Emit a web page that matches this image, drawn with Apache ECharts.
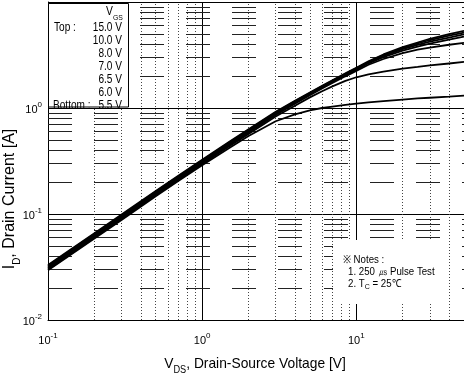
<!DOCTYPE html>
<html><head><meta charset="utf-8">
<script src="https://cdn.jsdelivr.net/npm/echarts@6/dist/echarts.min.js"></script>
<style>html,body{margin:0;padding:0;background:#fff}#c{width:464px;height:381px}</style>
</head><body><div id="c"></div>
<script>
// ---- data ----
const vds = [0.1,0.2,0.3,0.5,0.7,1,1.5,2,3,4,5,6,7,8.5,10,12,15,20,25,30,40,50];
const id15v0 = [0.033,0.066,0.099,0.165,0.23,0.325,0.48,0.63,0.92,1.17,1.40,1.62,1.83,2.12,2.40,2.76,3.20,3.75,4.15,4.50,4.98,5.35];
const id10v0 = [0.0324,0.0648,0.097,0.162,0.226,0.32,0.472,0.62,0.905,1.155,1.385,1.60,1.81,2.09,2.37,2.72,3.15,3.68,4.06,4.38,4.82,5.15];
const id8v0  = [0.0318,0.0636,0.095,0.159,0.222,0.314,0.464,0.61,0.89,1.14,1.37,1.58,1.79,2.07,2.34,2.69,3.10,3.60,3.95,4.22,4.62,4.95];
const id7v0  = [0.0312,0.0624,0.0935,0.156,0.218,0.308,0.455,0.60,0.875,1.12,1.35,1.56,1.76,2.04,2.30,2.64,3.02,3.48,3.80,4.05,4.42,4.72];
const id6v5  = [0.0306,0.0612,0.092,0.153,0.214,0.302,0.446,0.588,0.86,1.10,1.32,1.53,1.72,1.99,2.24,2.56,2.90,3.30,3.55,3.72,3.95,4.12];
const id6v0  = [0.030,0.060,0.090,0.150,0.21,0.296,0.436,0.57,0.83,1.05,1.26,1.44,1.60,1.80,1.95,2.08,2.20,2.35,2.44,2.52,2.63,2.72];
const id5v5  = [0.0294,0.0588,0.088,0.147,0.205,0.288,0.42,0.545,0.75,0.87,0.95,1.00,1.03,1.07,1.10,1.13,1.16,1.20,1.23,1.25,1.28,1.31];
const curves = [id15v0,id10v0,id8v0,id7v0,id6v5,id6v0,id5v5];
const vgsLabels = ['15.0 V','10.0 V','8.0 V','7.0 V','6.5 V','6.0 V','5.5 V'];
const xMinorGrid = [0.2,0.3,0.4,0.5,0.6,0.7,0.8,0.9,2,3,4,5,6,7,8,9,20,30,40];
const yMinorGrid = [0.02,0.03,0.04,0.05,0.06,0.07,0.08,0.09,0.2,0.3,0.4,0.5,0.6,0.7,0.8,0.9,2,3,4,5,6,7,8,9];
const noteLines = ['\u203B Notes :','1. 250 \u33B2 Pulse Test','2. T{s|C} = 25\u2103'];

// ---- chart ----
const FONT = '"Liberation Sans", Arial, sans-serif';
const chart = echarts.init(document.getElementById('c'), null, {renderer:'canvas'});

function powLabel(v){
  const e = Math.round(Math.log10(v));
  if (Math.abs(Math.log10(v) - e) > 1e-6) return '';
  return '{b|10}{s|' + e + '}';
}
const labelRich = {
  b:{fontSize:11, fontFamily:FONT, color:'#000', verticalAlign:'bottom'},
  s:{fontSize:8, fontFamily:FONT, color:'#000', verticalAlign:'bottom', padding:[0,0,6,0]}
};

const series = curves.map((d, k) => ({
  type:'line', name:vgsLabels[k], z:5,
  data: vds.map((v,i)=>[v, d[i]]),
  smooth:false, showSymbol:false, symbol:'none',
  lineStyle:{color:'#000', width:1.8}
}));
series.push({
  type:'line', z:1, data:[[0.1,0.01]], showSymbol:false, symbol:'none', lineStyle:{width:0},
  markLine:{silent:true, symbol:'none', label:{show:false}, animation:false,
    lineStyle:{type:[1,2], color:'#444', width:1},
    data: xMinorGrid.map(v=>({xAxis:v}))}
});
series.push({
  type:'line', z:1, data:[[0.1,0.01]], showSymbol:false, symbol:'none', lineStyle:{width:0},
  markLine:{silent:true, symbol:'none', label:{show:false}, animation:false,
    lineStyle:{type:[24,22], color:'#222', width:1},
    data: yMinorGrid.map(v=>({yAxis:v}))}
});

const legendTexts = vgsLabels.map((t,i)=>({
  type:'text', x:122, y:27.5 + i*13, scaleX:0.84, z:101,
  style:{text:t, font:'12px '+FONT, fill:'#000', align:'right', textAlign:'right', verticalAlign:'middle', textVerticalAlign:'middle'}
}));

chart.setOption({
  animation:false,
  backgroundColor:'#fff',
  grid:{left:48, right:0, top:2, bottom:61, containLabel:false},
  xAxis:{type:'log', logBase:10, min:0.1, max:50,
    axisLine:{show:true, lineStyle:{color:'#000', width:1}},
    axisTick:{show:false},
    splitLine:{show:true, lineStyle:{color:'#000', width:1}},
    axisLabel:{formatter:powLabel, rich:labelRich, margin:12, showMaxLabel:false}
  },
  yAxis:{type:'log', logBase:10, min:0.01, max:10,
    axisLine:{show:true, lineStyle:{color:'#000', width:1}},
    axisTick:{show:false},
    splitLine:{show:true, lineStyle:{color:'#000', width:1}},
    axisLabel:{formatter:powLabel, rich:labelRich, margin:6, showMaxLabel:false}
  },
  series: series,
  graphic:[
    {type:'rect', z:100, shape:{x:48.5, y:3.5, width:80, height:103.5}, style:{fill:'#fff', stroke:'#000', lineWidth:1}},
    {type:'text', x:106, y:14, z:101, scaleX:0.86,
      style:{text:'{a|V}{d|GS}', fill:'#000', align:'left', textAlign:'left', verticalAlign:'middle', textVerticalAlign:'middle',
        rich:{a:{fontSize:12, fontFamily:FONT, verticalAlign:'bottom', padding:[0,0,4,0]}, d:{fontSize:8, fontFamily:FONT, verticalAlign:'bottom'}}}},
    {type:'text', x:54, y:27.5, z:101, scaleX:0.84,
      style:{text:'Top :', font:'12px '+FONT, fill:'#000', align:'left', textAlign:'left', verticalAlign:'middle', textVerticalAlign:'middle'}},
    {type:'text', x:53, y:105.5, z:101, scaleX:0.84,
      style:{text:'Bottom :', font:'12px '+FONT, fill:'#000', align:'left', textAlign:'left', verticalAlign:'middle', textVerticalAlign:'middle'}},
    ...legendTexts,
    {type:'rect', z:100, shape:{x:333, y:240, width:111, height:64}, style:{fill:'#fff', lineWidth:0}},
    {type:'text', x:343, y:260, z:101, scaleX:0.88,
      style:{text:noteLines[0], font:'11px '+FONT, fill:'#000', align:'left', textAlign:'left', verticalAlign:'middle', textVerticalAlign:'middle'}},
    {type:'text', x:348, y:271.5, z:101, scaleX:0.88,
      style:{text:noteLines[1], font:'11px '+FONT, fill:'#000', align:'left', textAlign:'left', verticalAlign:'middle', textVerticalAlign:'middle'}},
    {type:'text', x:348, y:284, z:101, scaleX:0.88,
      style:{text:noteLines[2], fill:'#000', align:'left', textAlign:'left', verticalAlign:'middle', textVerticalAlign:'middle',
        font:'11px '+FONT,
        rich:{s:{fontSize:8, fontFamily:FONT, padding:[6,0,0,0]}}}},
    {type:'text', x:255, y:366, z:101, scaleX:0.92,
      style:{text:'{a|V}{d|DS}{a|, Drain-Source Voltage [V]}', fill:'#000', align:'center', textAlign:'center', verticalAlign:'middle', textVerticalAlign:'middle',
        rich:{a:{fontSize:15, fontFamily:FONT, verticalAlign:'bottom', padding:[0,0,4,0]}, d:{fontSize:10, fontFamily:FONT, verticalAlign:'bottom'}}}},
    {type:'text', x:12, y:199, z:101, rotation:Math.PI/2, scaleX:1.0,
      style:{text:'{a|I}{d|D}{a|, Drain Current [A]}', fill:'#000', align:'center', textAlign:'center', verticalAlign:'middle', textVerticalAlign:'middle',
        rich:{a:{fontSize:16, fontFamily:FONT, verticalAlign:'bottom', padding:[0,0,4,0]}, d:{fontSize:10, fontFamily:FONT, verticalAlign:'bottom'}}}}
  ]
});
</script>
</body></html>
